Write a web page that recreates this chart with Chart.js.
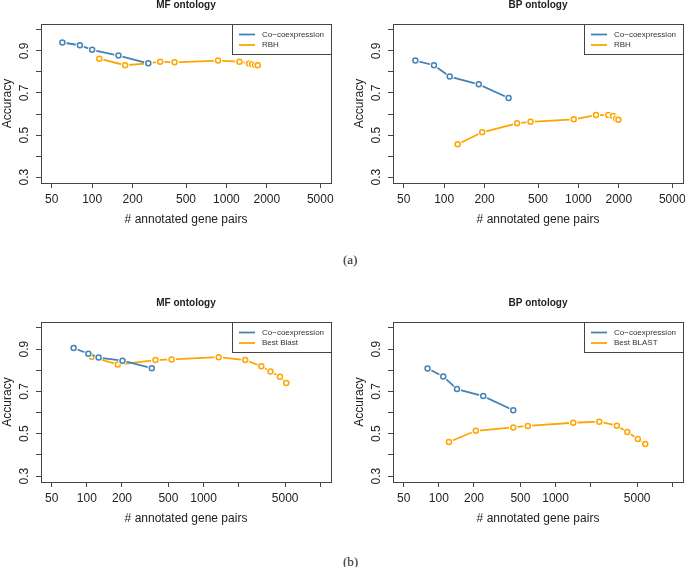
<!DOCTYPE html>
<html>
<head>
<meta charset="utf-8">
<script src="https://cdn.jsdelivr.net/npm/chart.js@4.4.0/dist/chart.umd.min.js"></script>
<style>
  body { margin: 0; background: #fff; width: 685px; height: 567px; position: relative; overflow: hidden; }
  canvas { position: absolute; }
  .tag { position: absolute; font-family: "Liberation Serif", serif; font-size: 13px; color: #222; }
</style>
</head>
<body>
<canvas id="mfA" width="340" height="240" style="left:0;top:0"></canvas>
<canvas id="bpA" width="350" height="240" style="left:345px;top:0"></canvas>
<canvas id="mfB" width="340" height="240" style="left:0;top:290px"></canvas>
<canvas id="bpB" width="340" height="240" style="left:345px;top:290px"></canvas>
<div class="tag" style="left:343px;top:252px">(a)</div>
<div class="tag" style="left:343px;top:554px">(b)</div>

<script>
// (a) MF ontology
const coexpA_MF_x = [60, 81, 100, 157, 262];
const coexpA_MF_y = [0.940, 0.927, 0.905, 0.878, 0.841];
const rbhA_MF_x = [113, 176, 262, 321, 411, 866, 1250, 1476, 1555, 1637, 1711];
const rbhA_MF_y = [0.863, 0.832, 0.841, 0.849, 0.846, 0.854, 0.849, 0.840, 0.837, 0.833, 0.832];

// (a) BP ontology
const coexpA_BP_x = [61, 84, 110, 181, 302];
const coexpA_BP_y = [0.854, 0.832, 0.778, 0.741, 0.676];
const rbhA_BP_x = [126, 192, 349, 440, 923, 1351, 1670, 1810, 1910, 1985];
const rbhA_BP_y = [0.456, 0.513, 0.556, 0.563, 0.575, 0.595, 0.595, 0.590, 0.577, 0.573];

// (b) MF ontology
const coexpB_MF_x = [77, 103, 126, 202, 360];
const coexpB_MF_y = [0.905, 0.878, 0.860, 0.845, 0.810];
const blastB_MF_x = [110, 184, 387, 532, 1348, 2274, 3128, 3743, 4513, 5113];
const blastB_MF_y = [0.864, 0.827, 0.848, 0.851, 0.862, 0.848, 0.819, 0.794, 0.769, 0.740];

// (b) BP ontology
const coexpB_BP_x = [80, 109, 143, 240, 434];
const coexpB_BP_y = [0.808, 0.771, 0.711, 0.678, 0.611];
const blastB_BP_x = [122, 207, 434, 579, 1418, 2368, 3352, 4114, 5073, 5872];
const blastB_BP_y = [0.461, 0.514, 0.530, 0.537, 0.552, 0.557, 0.538, 0.508, 0.475, 0.451];

// axis ticks
const xTicksA = [50, 100, 200, 500, 1000, 2000, 5000];
const xTicksB = [50, 100, 200, 500, 1000, 2000, 5000, 10000];
const xHiddenB = [2000, 10000];
const yTicks = [0.3, 0.4, 0.5, 0.6, 0.7, 0.8, 0.9, 1.0];
const yLabels = [0.3, 0.5, 0.7, 0.9];

const BLUE = '#4682B4';
const ORANGE = '#FFA500';
const FONT = '"Liberation Sans", Arial, sans-serif';

function pts(xs, ys) {
    return xs.map((x, i) => ({ x: x, y: ys[i] }));
}

// frame, y labels, title and legend drawn like the R base graphics version
const framePlugin = {
    id: 'frame',
    afterDatasetDraw(chart, args) {
        const ctx = chart.ctx;
        ctx.save();
        args.meta.data.forEach(pt => {
            ctx.beginPath();
            ctx.arc(pt.x, pt.y, 4.3, 0, Math.PI * 2);
            ctx.fillStyle = '#fff';
            ctx.fill();
            pt.draw(ctx, chart.chartArea);
        });
        ctx.restore();
    },
    afterDraw(chart, args, opts) {
        const ctx = chart.ctx;
        const a = chart.chartArea;
        const y = chart.scales.y;
        ctx.save();
        ctx.strokeStyle = '#444';
        ctx.lineWidth = 1;
        ctx.strokeRect(Math.round(a.left) + 0.5, Math.round(a.top) + 0.5, Math.round(a.width), Math.round(a.height));

        ctx.fillStyle = '#222';
        ctx.font = '12px ' + FONT;
        ctx.textAlign = 'center';
        ctx.textBaseline = 'middle';
        yLabels.forEach(v => {
            ctx.save();
            ctx.translate(a.left - 16, y.getPixelForValue(v));
            ctx.rotate(-Math.PI / 2);
            ctx.fillText(v.toFixed(1), 0, 0);
            ctx.restore();
        });

        ctx.font = 'bold 10px ' + FONT;
        ctx.fillText(opts.title, (a.left + a.right) / 2, a.top - 19);

        // legend box
        const w = 99, h = 30;
        const lx = Math.round(a.right - w), ly = Math.round(a.top);
        ctx.fillStyle = '#fff';
        ctx.fillRect(lx, ly, w, h);
        ctx.strokeStyle = '#444';
        ctx.strokeRect(lx + 0.5, ly + 0.5, w, h);
        chart.data.datasets.forEach((ds, i) => {
            const yy = ly + 10.5 + i * 10.5;
            ctx.strokeStyle = ds.borderColor;
            ctx.lineWidth = 1.8;
            ctx.beginPath();
            ctx.moveTo(lx + 7, yy);
            ctx.lineTo(lx + 23, yy);
            ctx.stroke();
            ctx.fillStyle = '#333';
            ctx.font = '8px ' + FONT;
            ctx.textAlign = 'left';
            ctx.fillText(ds.label, lx + 30, yy);
        });
        ctx.restore();
    }
};

function makeChart(id, p) {
    const series = (label, color, data) => ({
        label: label,
        data: data,
        borderColor: color,
        backgroundColor: color,
        borderWidth: 1.8,
        pointRadius: 2.5,
        pointBorderWidth: 1.5,
        pointBackgroundColor: '#fff',
        pointBorderColor: color,
        tension: 0
    });

    new Chart(document.getElementById(id), {
        type: 'line',
        data: {
            datasets: [
                series('Co\u2212coexpression', BLUE, p.coexp),
                series(p.otherLabel, ORANGE, p.other)
            ]
        },
        plugins: [framePlugin],
        options: {
            responsive: false,
            animation: false,
            devicePixelRatio: 1,
            layout: { autoPadding: false, padding: p.padding },
            plugins: {
                legend: { display: false },
                tooltip: { enabled: false },
                frame: { title: p.title }
            },
            scales: {
                x: {
                    type: 'logarithmic',
                    min: p.xMin,
                    max: p.xMax,
                    afterBuildTicks: s => { s.ticks = p.xTicks.map(v => ({ value: v })); },
                    afterFit: s => { s.height = 45; },
                    border: { display: false },
                    grid: { drawOnChartArea: false, tickLength: 5, color: '#444' },
                    ticks: {
                        autoSkip: false, maxRotation: 0, minRotation: 0, padding: 4,
                        color: '#222', font: { family: FONT, size: 12 },
                        callback: v => (p.hidden.includes(v) ? '' : String(v))
                    },
                    title: {
                        display: true, text: '# annotated gene pairs', color: '#222',
                        font: { family: FONT, size: 12 }, padding: { top: 0, bottom: 1 }
                    }
                },
                y: {
                    type: 'linear',
                    min: 0.272,
                    max: 1.028,
                    afterBuildTicks: s => { s.ticks = yTicks.map(v => ({ value: v })); },
                    afterFit: s => { s.width = 41; },
                    border: { display: false },
                    grid: { drawOnChartArea: false, tickLength: 5, color: '#444' },
                    ticks: { display: false },
                    title: {
                        display: true, text: 'Accuracy', color: '#222',
                        font: { family: FONT, size: 12 }, padding: 0
                    }
                }
            }
        }
    });
}

const limA = [Math.pow(10, Math.log10(50) - 0.08), Math.pow(10, Math.log10(5000) + 0.08)];
const spanB = (Math.log10(10000) - Math.log10(50)) * 0.04;
const limB = [Math.pow(10, Math.log10(50) - spanB), Math.pow(10, 4 + spanB)];

makeChart('mfA', {
    title: 'MF ontology', otherLabel: 'RBH',
    coexp: pts(coexpA_MF_x, coexpA_MF_y), other: pts(rbhA_MF_x, rbhA_MF_y),
    xMin: limA[0], xMax: limA[1], xTicks: xTicksA, hidden: [],
    padding: { left: 0, top: 24, right: 9, bottom: 12 }
});
makeChart('bpA', {
    title: 'BP ontology', otherLabel: 'RBH',
    coexp: pts(coexpA_BP_x, coexpA_BP_y), other: pts(rbhA_BP_x, rbhA_BP_y),
    xMin: limA[0], xMax: limA[1], xTicks: xTicksA, hidden: [],
    padding: { left: 7, top: 24, right: 12, bottom: 12 }
});
makeChart('mfB', {
    title: 'MF ontology', otherLabel: 'Best Blast',
    coexp: pts(coexpB_MF_x, coexpB_MF_y), other: pts(blastB_MF_x, blastB_MF_y),
    xMin: limB[0], xMax: limB[1], xTicks: xTicksB, hidden: xHiddenB,
    padding: { left: 0, top: 32, right: 9, bottom: 3 }
});
makeChart('bpB', {
    title: 'BP ontology', otherLabel: 'Best BLAST',
    coexp: pts(coexpB_BP_x, coexpB_BP_y), other: pts(blastB_BP_x, blastB_BP_y),
    xMin: limB[0], xMax: limB[1], xTicks: xTicksB, hidden: xHiddenB,
    padding: { left: 7, top: 32, right: 2, bottom: 3 }
});
</script>
</body>
</html>
